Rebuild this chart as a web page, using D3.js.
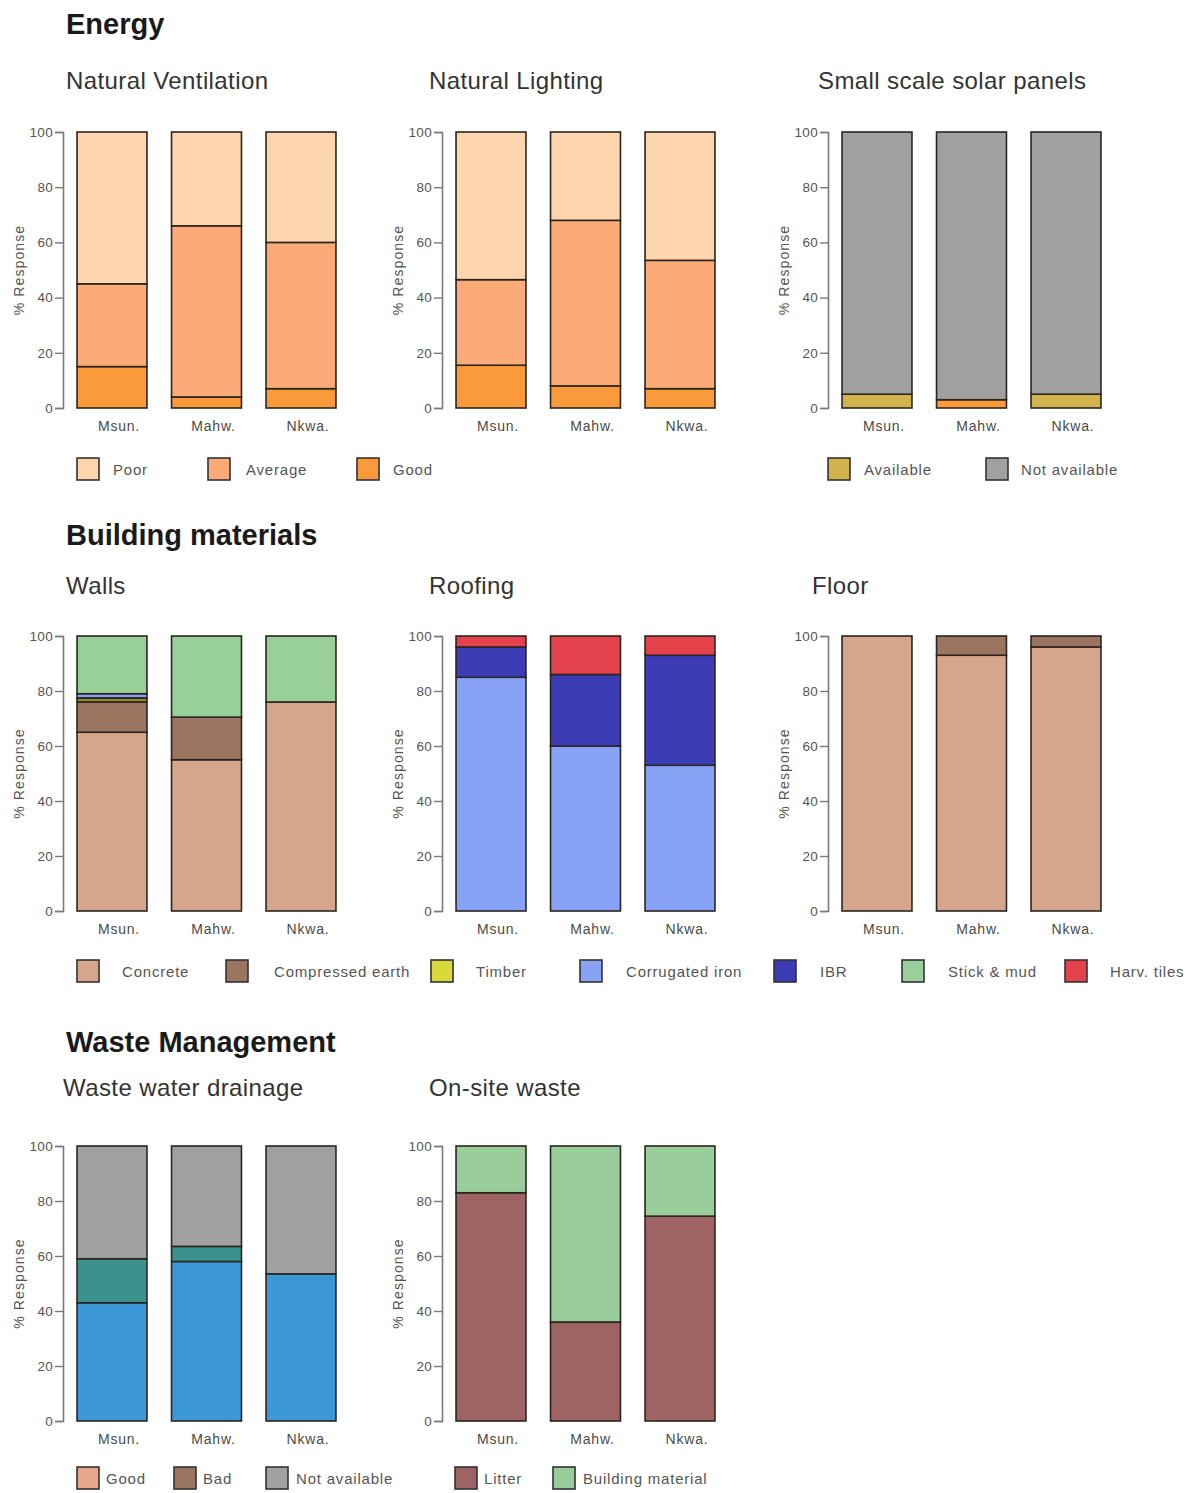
<!DOCTYPE html>
<html>
<head>
<meta charset="utf-8">
<script src="https://cdn.jsdelivr.net/npm/d3@7"></script>
<style>
  html, body { margin: 0; padding: 0; background: #fff; }
  svg { display: block; font-family: "Liberation Sans", Arial, sans-serif; }
</style>
</head>
<body>
<svg id="chart" width="1195" height="1493"></svg>
<script>
// ---- data ---------------------------------------------------------------
const sites = ["Msun.", "Mahw.", "Nkwa."];
const yTicks = [0, 20, 40, 60, 80, 100];

// Energy
const ventilationGood    = [15, 4, 7];
const ventilationAverage = [30, 62, 53];
const ventilationPoor    = [55, 34, 40];

const lightingGood    = [15.5, 8, 7];
const lightingAverage = [31, 60, 46.5];
const lightingPoor    = [53.5, 32, 46.5];

const solarAvailable    = [5, 3, 5];
const solarNotAvailable = [95, 97, 95];

// Building materials
const wallsConcrete      = [65, 55, 76];
const wallsEarth         = [11, 15.5, 0];
const wallsTimber        = [1.5, 0, 0];
const wallsCorrugated    = [1.5, 0, 0];
const wallsStickMud      = [21, 29.5, 24];

const roofCorrugated = [85, 60, 53];
const roofIBR        = [11, 26, 40];
const roofHarvTiles  = [4, 14, 7];

const floorConcrete = [100, 93, 96];
const floorEarth    = [0, 7, 4];

// Waste management
const drainageGood         = [43, 58, 53.5];
const drainageBad          = [16, 5.5, 0];
const drainageNotAvailable = [41, 36.5, 46.5];

const wasteLitter   = [83, 36, 74.5];
const wasteBuilding = [17, 64, 25.5];

// ---- colours ----------------------------------------------------------
const C = {
  poor: "#fdd6ae", average: "#fbaa78", good: "#fb9a3a",
  available: "#d2b24c", notAvailable: "#a0a0a0",
  concrete: "#d5a68b", earth: "#9b7560", timber: "#d9d93c",
  corrugated: "#88a2f6", ibr: "#3c3cb4", stickMud: "#99cf99", harv: "#e3414b",
  drainGood: "#3c97d8", drainBad: "#3a918e", drainNA: "#a0a0a0",
  legGood: "#e6a68c", legBad: "#9b7560",
  litter: "#9e6464", building: "#99cd99"
};
// the Mahw. "available" segment is drawn in orange
const solarAvailableFill = [C.available, "#f89a3c", C.available];

// ---- layout -----------------------------------------------------------
const svg = d3.select("#chart");
const rows = [
  { top: 132, bottom: 408 },
  { top: 636, bottom: 911 },
  { top: 1146, bottom: 1421 }
];
const cols = [63, 442, 828];

function drawPanel(col, row, series) {
  const ax = cols[col];
  const { top, bottom } = rows[row];
  const g = svg.append("g");
  const y = d3.scaleLinear().domain([0, 100]).range([bottom, top]);
  const x = d3.scaleBand().domain(sites)
    .range([ax + 1.75, ax + 1.75 + 3 * 94.5])
    .paddingInner(0.26).paddingOuter(0.13);

  // axis
  const yAxis = d3.axisLeft(y).tickValues(yTicks).tickSize(8).tickPadding(2);
  const axG = g.append("g").attr("transform", `translate(${ax},0)`).call(yAxis);
  axG.select(".domain").attr("stroke", "#7a7a7a").attr("stroke-width", 1.6);
  axG.selectAll(".tick line").attr("stroke", "#7a7a7a").attr("stroke-width", 1.4);
  axG.selectAll(".tick text").attr("fill", "#555").attr("font-size", 13.5)
    .attr("letter-spacing", 0.3)
    .attr("font-family", "'Liberation Sans', Arial, sans-serif");

  g.append("text")
    .attr("transform", `translate(${ax - 39},${(top + bottom) / 2}) rotate(-90)`)
    .attr("text-anchor", "middle").attr("font-size", 14).attr("letter-spacing", 1.1)
    .attr("fill", "#555")
    .text("% Response");

  // stacked bars
  const keys = series.map((s, i) => "k" + i);
  const table = sites.map((site, i) => {
    const o = { site };
    series.forEach((s, k) => { o["k" + k] = s.values[i]; });
    return o;
  });
  const stacked = d3.stack().keys(keys)(table);
  stacked.forEach((layer, k) => {
    const s = series[k];
    g.append("g").selectAll("rect")
      .data(layer.map((d, i) => ({ d, i })).filter(e => e.d[1] - e.d[0] > 0))
      .join("rect")
      .attr("x", e => x(sites[e.i]))
      .attr("width", x.bandwidth())
      .attr("y", e => y(e.d[1]))
      .attr("height", e => y(e.d[0]) - y(e.d[1]))
      .attr("fill", e => s.fills ? s.fills[e.i] : s.color)
      .attr("stroke", "#2b2520").attr("stroke-width", 1.6);
  });

  // x labels
  g.selectAll("text.xl").data(sites).join("text")
    .attr("class", "xl")
    .attr("x", d => x(d) + x.bandwidth() / 2 + 7)
    .attr("y", bottom + 23)
    .attr("text-anchor", "middle").attr("font-size", 14)
    .attr("letter-spacing", 0.8).attr("fill", "#4a4a4a")
    .text(d => d);
}

function drawLegend(yTop, items) {
  const g = svg.append("g");
  items.forEach(it => {
    g.append("rect").attr("x", it.sx).attr("y", yTop)
      .attr("width", 22).attr("height", 22)
      .attr("fill", it.color).attr("stroke", "#333").attr("stroke-width", 1.6);
    g.append("text").attr("x", it.tx).attr("y", yTop + 17)
      .attr("font-size", 15).attr("letter-spacing", 0.8).attr("fill", "#555")
      .text(it.label);
  });
}

function heading(x, yb, text) {
  svg.append("text").attr("x", x).attr("y", yb)
    .attr("font-size", 29).attr("font-weight", "bold").attr("fill", "#1a1a1a").text(text);
}
function subtitle(x, yb, text) {
  svg.append("text").attr("x", x).attr("y", yb)
    .attr("font-size", 24).attr("letter-spacing", 0.4).attr("fill", "#333").text(text);
}

// ---- Energy -----------------------------------------------------------
heading(66, 34, "Energy");
subtitle(66, 89, "Natural Ventilation");
subtitle(429, 89, "Natural Lighting");
subtitle(818, 89, "Small scale solar panels");

drawPanel(0, 0, [
  { values: ventilationGood, color: C.good },
  { values: ventilationAverage, color: C.average },
  { values: ventilationPoor, color: C.poor }
]);
drawPanel(1, 0, [
  { values: lightingGood, color: C.good },
  { values: lightingAverage, color: C.average },
  { values: lightingPoor, color: C.poor }
]);
drawPanel(2, 0, [
  { values: solarAvailable, color: C.available, fills: solarAvailableFill },
  { values: solarNotAvailable, color: C.notAvailable }
]);
drawLegend(458, [
  { sx: 77, tx: 113, color: C.poor, label: "Poor" },
  { sx: 208, tx: 246, color: C.average, label: "Average" },
  { sx: 357, tx: 393, color: C.good, label: "Good" },
  { sx: 828, tx: 864, color: C.available, label: "Available" },
  { sx: 986, tx: 1021, color: C.notAvailable, label: "Not available" }
]);

// ---- Building materials -----------------------------------------------
heading(66, 545, "Building materials");
subtitle(66, 594, "Walls");
subtitle(429, 594, "Roofing");
subtitle(812, 594, "Floor");

drawPanel(0, 1, [
  { values: wallsConcrete, color: C.concrete },
  { values: wallsEarth, color: C.earth },
  { values: wallsTimber, color: "#8f8a30" },
  { values: wallsCorrugated, color: C.corrugated },
  { values: wallsStickMud, color: C.stickMud }
]);
drawPanel(1, 1, [
  { values: roofCorrugated, color: C.corrugated },
  { values: roofIBR, color: C.ibr },
  { values: roofHarvTiles, color: C.harv }
]);
drawPanel(2, 1, [
  { values: floorConcrete, color: C.concrete },
  { values: floorEarth, color: C.earth }
]);
drawLegend(960, [
  { sx: 77, tx: 122, color: C.concrete, label: "Concrete" },
  { sx: 226, tx: 274, color: C.earth, label: "Compressed earth" },
  { sx: 431, tx: 476, color: C.timber, label: "Timber" },
  { sx: 580, tx: 626, color: C.corrugated, label: "Corrugated iron" },
  { sx: 774, tx: 820, color: C.ibr, label: "IBR" },
  { sx: 902, tx: 948, color: C.stickMud, label: "Stick & mud" },
  { sx: 1065, tx: 1110, color: C.harv, label: "Harv. tiles" }
]);

// ---- Waste management -------------------------------------------------
heading(66, 1052, "Waste Management");
subtitle(63, 1096, "Waste water drainage");
subtitle(429, 1096, "On-site waste");

drawPanel(0, 2, [
  { values: drainageGood, color: C.drainGood },
  { values: drainageBad, color: C.drainBad },
  { values: drainageNotAvailable, color: C.drainNA }
]);
drawPanel(1, 2, [
  { values: wasteLitter, color: C.litter },
  { values: wasteBuilding, color: C.building }
]);
drawLegend(1467, [
  { sx: 77, tx: 106, color: C.legGood, label: "Good" },
  { sx: 174, tx: 203, color: C.legBad, label: "Bad" },
  { sx: 266, tx: 296, color: C.drainNA, label: "Not available" },
  { sx: 455, tx: 484, color: C.litter, label: "Litter" },
  { sx: 553, tx: 583, color: C.building, label: "Building material" }
]);
</script>
</body>
</html>
